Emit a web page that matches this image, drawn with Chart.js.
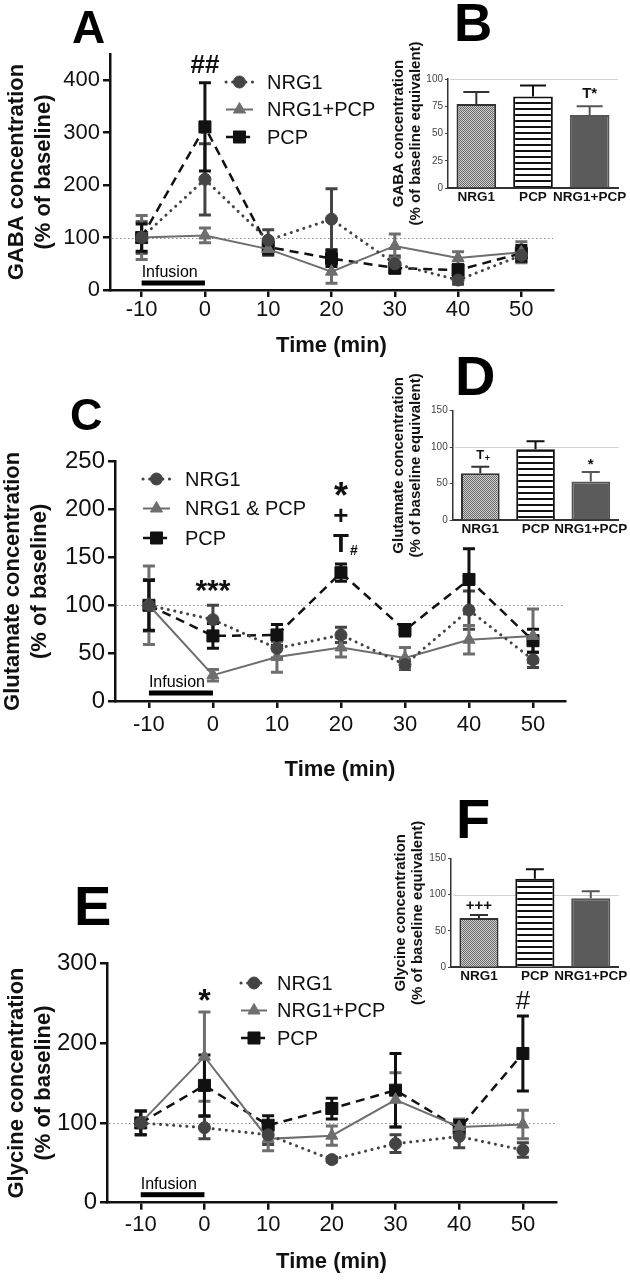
<!DOCTYPE html>
<html><head><meta charset="utf-8">
<script src="https://cdn.jsdelivr.net/npm/chart.js@4/dist/chart.umd.min.js"></script>
<style>
html,body{margin:0;padding:0;background:#fff;}
#wrap{position:relative;width:630px;height:1280px;overflow:hidden;font-family:'Liberation Sans',Arial,sans-serif;background:#fff;}
canvas{position:absolute;}
.letter{position:absolute;font-weight:bold;color:#000;line-height:1;font-family:'Liberation Sans',Arial,sans-serif;}
</style></head><body>
<div id="wrap">
<canvas id="cA" width="590" height="370" style="left:0;top:0"></canvas>
<canvas id="cC" width="590" height="390" style="left:0;top:400px"></canvas>
<canvas id="cE" width="590" height="380" style="left:0;top:900px"></canvas>
<canvas id="cB" width="240" height="240" style="left:390px;top:0"></canvas>
<canvas id="cD" width="240" height="250" style="left:390px;top:330px"></canvas>
<canvas id="cF" width="240" height="260" style="left:390px;top:760px"></canvas>
<div class="letter" style="left:72px;top:4px;font-size:46px">A</div>
<div class="letter" style="left:454px;top:-4px;font-size:53px">B</div>
<div class="letter" style="left:70px;top:392px;font-size:45px">C</div>
<div class="letter" style="left:455px;top:348px;font-size:56px">D</div>
<div class="letter" style="left:74px;top:878px;font-size:56px">E</div>
<div class="letter" style="left:456px;top:791px;font-size:56px">F</div>
</div>
<script>
// ---------------- DATA ----------------
const timePoints = [-10, 0, 10, 20, 30, 40, 50];
const xTickValues = [-10, 0, 10, 20, 30, 40, 50];
const infusionRange = [-10, 0];
const baselineValue = 100;

const seriesLabels = ['NRG1', 'NRG1+PCP', 'PCP'];
const seriesLabelsC = ['NRG1', 'NRG1 & PCP', 'PCP'];

// A: GABA (% of baseline)
const gabaTicks = [0, 100, 200, 300, 400];
const gabaNRG1 = [100, 211, 95, 135, 50, 19, 66];
const gabaNRG1Err = [30, 68, 20, 58, 15, 8, 12];
const gabaCombo = [100, 104, 78, 35, 84, 61, 72];
const gabaComboErr = [42, 14, 12, 22, 23, 12, 20];
const gabaPCP = [100, 311, 82, 60, 42, 38, 70];
const gabaPCPErr = [26, 84, 14, 15, 10, 10, 15];

// C: Glutamate (% of baseline)
const glutTicks = [0, 50, 100, 150, 200, 250];
const glutNRG1 = [100, 85, 55, 69, 38, 95, 43];
const glutNRG1Err = [27, 15, 10, 8, 5, 20, 8];
const glutCombo = [100, 27, 46, 56, 45, 64, 68];
const glutComboErr = [41, 6, 16, 10, 11, 15, 28];
const glutPCP = [100, 68, 69, 134, 74, 127, 63];
const glutPCPErr = [26, 13, 11, 9, 6, 32, 12];

// E: Glycine (% of baseline)
const glyTicks = [0, 100, 200, 300];
const glyNRG1 = [100, 94, 85, 54, 74, 83, 66];
const glyNRG1Err = [15, 14, 12, 3, 11, 14, 9];
const glyCombo = [100, 183, 80, 84, 129, 95, 98];
const glyComboErr = [15, 56, 15, 12, 34, 10, 18];
const glyPCP = [100, 147, 97, 118, 141, 93, 187];
const glyPCPErr = [15, 38, 12, 13, 46, 10, 47];

// Insets: % of baseline equivalent
const barCategories = ['NRG1', 'PCP', 'NRG1+PCP'];
const gabaBarTicks = [0, 25, 50, 75, 100];
const gabaBar = [77, 84, 67];
const gabaBarErr = [11, 10, 8];
const glutBarTicks = [0, 50, 100, 150];
const glutBar = [64, 97, 53];
const glutBarErr = [9, 11, 13];
const glyBarTicks = [0, 50, 100, 150];
const glyBar = [68, 122, 95];
const glyBarErr = [4, 13, 9.5];

// ---------------- STYLES ----------------
const FONT = "'Liberation Sans', Arial, Helvetica, sans-serif";
Chart.defaults.font.family = FONT;
Chart.defaults.color = '#111';

const styleNRG1 = {color: '#444', dash: [0.1, 6.5], width: 3, cap: 'round', point: 'circle', radius: 6};
const styleCombo = {color: '#6e6e6e', dash: [], width: 2, cap: 'butt', point: 'triangle', radius: 7};
const stylePCP = {color: '#111', dash: [9, 6], width: 2.5, cap: 'butt', point: 'rect', radius: 8.5};

function checkerPattern() {
  const c = document.createElement('canvas'); c.width = 2; c.height = 2;
  const g = c.getContext('2d');
  g.fillStyle = '#cfcfcf'; g.fillRect(0, 0, 2, 2);
  g.fillStyle = '#6a6a6a'; g.fillRect(0, 0, 1, 1); g.fillRect(1, 1, 1, 1);
  return g.createPattern(c, 'repeat');
}
function stripePattern() {
  const c = document.createElement('canvas'); c.width = 4; c.height = 6;
  const g = c.getContext('2d');
  g.fillStyle = '#fff'; g.fillRect(0, 0, 4, 6);
  g.fillStyle = '#111'; g.fillRect(0, 0, 4, 2);
  return g.createPattern(c, 'repeat');
}

// ---------------- PLUGINS ----------------
const refLinePlugin = {
  id: 'refLine',
  beforeDatasetsDraw(chart, args, o) {
    if (!o || o.value === undefined) return;
    const {ctx, chartArea: a, scales: {y}} = chart;
    const py = Math.round(y.getPixelForValue(o.value)) + 0.5;
    ctx.save();
    ctx.strokeStyle = o.color; ctx.lineWidth = o.width || 1;
    ctx.setLineDash(o.dash || []);
    ctx.beginPath(); ctx.moveTo(a.left + 2, py); ctx.lineTo(a.right, py); ctx.stroke();
    ctx.restore();
  }
};

const errorBarPlugin = {
  id: 'errBars',
  beforeDatasetsDraw(chart, args, o) {
    const {ctx, scales: {x, y}} = chart;
    chart.data.datasets.forEach((ds, i) => {
      if (!ds.errors) return;
      const meta = chart.getDatasetMeta(i);
      ds.data.forEach((pt, j) => {
        const val = typeof pt === 'number' ? pt : pt.y;
        const e = ds.errors[j];
        const px = typeof pt === 'number' ? meta.data[j].x : x.getPixelForValue(pt.x);
        const yTop = y.getPixelForValue(val + e);
        const yBot = ds.upOnly ? y.getPixelForValue(val) : y.getPixelForValue(val - e);
        const col = Array.isArray(ds.errColor) ? ds.errColor[j] : (ds.errColor || ds.borderColor);
        const cw = (o && o.cap) || 6;
        ctx.save();
        ctx.strokeStyle = col; ctx.lineWidth = (o && o.width) || 3; ctx.setLineDash([]);
        ctx.beginPath();
        ctx.moveTo(px, yTop); ctx.lineTo(px, yBot);
        ctx.moveTo(px - cw, yTop); ctx.lineTo(px + cw, yTop);
        if (!ds.upOnly) { ctx.moveTo(px - cw, yBot); ctx.lineTo(px + cw, yBot); }
        ctx.stroke();
        ctx.restore();
      });
    });
  }
};

const infusionPlugin = {
  id: 'infusion',
  afterDatasetsDraw(chart, args, o) {
    if (!o || !o.range) return;
    const {ctx, chartArea: a, scales: {x}} = chart;
    const x0 = x.getPixelForValue(o.range[0]);
    const x1 = x.getPixelForValue(o.range[1]);
    const yb = a.bottom - o.offset;
    ctx.save();
    ctx.fillStyle = '#000';
    ctx.fillRect(x0, yb - o.thickness / 2, x1 - x0, o.thickness);
    ctx.font = o.font; ctx.textAlign = 'left'; ctx.textBaseline = 'alphabetic';
    ctx.fillText(o.label, x0, yb - o.textGap);
    ctx.restore();
  }
};

const legendPlugin = {
  id: 'lineLegend',
  afterDraw(chart, args, o) {
    if (!o || !o.labels) return;
    const {ctx} = chart;
    chart.data.datasets.forEach((ds, i) => {
      const yy = o.y + i * o.gap;
      ctx.save();
      ctx.strokeStyle = ds.borderColor; ctx.lineWidth = ds.borderWidth;
      ctx.lineCap = ds.borderCapStyle || 'butt';
      ctx.setLineDash(o.dashes[i]);
      ctx.beginPath(); ctx.moveTo(o.x, yy); ctx.lineTo(o.x + o.len, yy); ctx.stroke();
      ctx.setLineDash([]);
      ctx.fillStyle = ds.pointBackgroundColor; ctx.strokeStyle = ds.pointBorderColor; ctx.lineWidth = 1;
      Chart.helpers.drawPoint(ctx, {pointStyle: ds.pointStyle, radius: ds.pointRadius, borderWidth: 1, rotation: 0}, o.x + o.len / 2, yy);
      ctx.fillStyle = '#111'; ctx.font = o.font; ctx.textAlign = 'left'; ctx.textBaseline = 'middle';
      ctx.fillText(o.labels[i], o.textX, yy + 1);
      ctx.restore();
    });
  }
};

const annotPlugin = {
  id: 'annots',
  afterDatasetsDraw(chart, args, o) {
    if (!o || !o.items) return;
    const {ctx, scales: {x, y}} = chart;
    o.items.forEach(a => {
      const px = x.getPixelForValue(a.x) + (a.dx || 0);
      const py = y.getPixelForValue(a.y);
      ctx.save();
      ctx.font = a.font; ctx.fillStyle = '#111';
      ctx.textAlign = 'center'; ctx.textBaseline = 'middle';
      ctx.fillText(a.text, px, py);
      ctx.restore();
    });
  }
};

// ---------------- BUILDERS ----------------
function buildSeries(labels, valuesList, errorsList, styles) {
  return labels.map((lab, k) => {
    const s = styles[k];
    return {
      label: lab,
      data: timePoints.map((t, i) => ({x: t, y: valuesList[k][i]})),
      errors: errorsList[k],
      borderColor: s.color, backgroundColor: s.color,
      borderWidth: s.width, borderDash: s.dash, borderCapStyle: s.cap,
      pointStyle: s.point, pointRadius: s.radius,
      pointBackgroundColor: s.color, pointBorderColor: s.color, pointBorderWidth: 1,
      tension: 0, fill: false
    };
  });
}

function makeLine(id, spec) {
  return new Chart(document.getElementById(id), {
    type: 'line',
    data: {datasets: spec.datasets},
    options: {
      responsive: false, animation: false, events: [],
      layout: {padding: spec.padding},
      plugins: {
        legend: {display: false}, tooltip: {enabled: false},
        refLine: {value: baselineValue, color: '#8a8a8a', width: 1, dash: [1.5, 2.5]},
        errBars: {cap: 6, width: 3},
        infusion: spec.infusion,
        lineLegend: spec.legend,
        annots: {items: spec.annots}
      },
      scales: {
        x: {
          type: 'linear', min: spec.xMin, max: spec.xMax,
          afterBuildTicks: s => { s.ticks = xTickValues.map(v => ({value: v})); },
          afterFit: s => { s.height = spec.xHeight; },
          ticks: {font: {size: 22}, color: '#111', padding: spec.xTickPad, autoSkip: false, maxRotation: 0},
          grid: {drawOnChartArea: false, tickLength: 7, color: '#111', lineWidth: 2.5},
          border: {color: '#111', width: 2.5},
          title: {display: true, text: 'Time (min)', font: {size: 22, weight: 'bold'}, color: '#111', padding: {top: 0, bottom: spec.xTitlePad}}
        },
        y: {
          min: 0, max: spec.yMax,
          afterBuildTicks: s => { s.ticks = spec.yTicks.map(v => ({value: v})); },
          afterFit: s => { s.width = spec.yWidth; },
          ticks: {font: {size: spec.yTickSize}, color: '#111', padding: 3},
          grid: {drawOnChartArea: false, tickLength: 7, color: '#111', lineWidth: 2.5},
          border: {color: '#111', width: 2.5},
          title: {display: true, text: spec.yTitle, font: {size: 22, weight: 'bold', lineHeight: 1.22}, color: '#111', padding: {top: spec.yTitlePad, bottom: 0}}
        }
      }
    },
    plugins: [refLinePlugin, errorBarPlugin, infusionPlugin, legendPlugin, annotPlugin]
  });
}

const checker = checkerPattern();
const stripes = stripePattern();

function makeBar(id, spec) {
  return new Chart(document.getElementById(id), {
    type: 'bar',
    data: {
      labels: barCategories,
      datasets: [{
        data: spec.values, errors: spec.errors, upOnly: true,
        backgroundColor: [checker, stripes, '#5b5b5b'],
        borderColor: ['#333', '#111', '#555'],
        errColor: ['#333', '#111', '#555'],
        borderWidth: 2,
        barPercentage: 0.7, categoryPercentage: 1
      }]
    },
    options: {
      responsive: false, animation: false, events: [],
      layout: {padding: spec.padding},
      plugins: {
        legend: {display: false}, tooltip: {enabled: false},
        refLine: {value: baselineValue, color: '#d2d2d2', width: 1},
        errBars: {cap: spec.cap, width: 2},
        annots: {items: spec.annots}
      },
      scales: {
        x: {
          afterFit: s => { s.height = spec.xHeight; },
          ticks: {font: {size: 13.5, weight: 'bold'}, color: '#111', padding: 1, autoSkip: false, maxRotation: 0, minRotation: 0},
          grid: {display: false, drawTicks: false},
          border: {color: '#333', width: 2}
        },
        y: {
          min: 0, max: spec.yMax,
          afterBuildTicks: s => { s.ticks = spec.yTicks.map(v => ({value: v})); },
          afterFit: s => { s.width = spec.yWidth; },
          ticks: {font: {size: 10}, color: '#444', padding: 2},
          grid: {drawOnChartArea: false, tickLength: 3, color: '#444', lineWidth: 1},
          border: {color: '#333', width: 1.5},
          title: {display: true, text: spec.yTitle, font: {size: 15, weight: 'bold', lineHeight: 1.15}, color: '#111', padding: {top: spec.yTitlePad, bottom: 0}}
        }
      }
    },
    plugins: [refLinePlugin, errorBarPlugin, annotPlugin]
  });
}

const styles3 = [styleNRG1, styleCombo, stylePCP];
const legendDashes = [[0.1, 6.5], [], [7, 5, 0.1, 5]];

// Panel A
makeLine('cA', {
  datasets: buildSeries(seriesLabels, [gabaNRG1, gabaCombo, gabaPCP], [gabaNRG1Err, gabaComboErr, gabaPCPErr], styles3),
  padding: {top: 54, right: 37, bottom: 0, left: 0},
  xMin: -15, xMax: 55, xHeight: 80, xTickPad: 0, xTitlePad: 11,
  yMax: 450, yTicks: gabaTicks, yWidth: 110, yTickSize: 22, yTitlePad: 4,
  yTitle: ['GABA concentration', '(% of baseline)'],
  infusion: {range: infusionRange, label: 'Infusion', offset: 7, thickness: 5, textGap: 6, font: '16px ' + FONT},
  legend: {labels: seriesLabels, x: 226, y: 82, gap: 27.5, len: 27, textX: 267, font: '20px ' + FONT, dashes: legendDashes},
  annots: [{x: 0, y: 427, text: '##', font: 'bold 26px ' + FONT}]
});

// Panel C
makeLine('cC', {
  datasets: buildSeries(seriesLabelsC, [glutNRG1, glutCombo, glutPCP], [glutNRG1Err, glutComboErr, glutPCPErr], styles3),
  padding: {top: 61.7, right: 25, bottom: 0, left: 0},
  xMin: -15.3, xMax: 55, xHeight: 89, xTickPad: 4, xTitlePad: 7,
  yMax: 250, yTicks: glutTicks, yWidth: 115, yTickSize: 24, yTitlePad: 0,
  yTitle: ['Glutamate concentration', '(% of baseline)'],
  infusion: {range: infusionRange, label: 'Infusion', offset: 8, thickness: 5, textGap: 6, font: '16px ' + FONT},
  legend: {labels: seriesLabelsC, x: 143, y: 79, gap: 29.5, len: 27, textX: 185, font: '20px ' + FONT, dashes: legendDashes},
  annots: [
    {x: 0, y: 114, text: '***', font: 'bold 30px ' + FONT},
    {x: 20, y: 212, text: '*', font: 'bold 36px ' + FONT},
    {x: 20, y: 192, text: '+', font: 'bold 26px ' + FONT},
    {x: 20, y: 163, text: 'T', font: 'bold 26px ' + FONT},
    {x: 20, y: 157, dx: 13, text: '#', font: 'bold 14px ' + FONT}
  ]
});

// Panel E
makeLine('cE', {
  datasets: buildSeries(seriesLabels, [glyNRG1, glyCombo, glyPCP], [glyNRG1Err, glyComboErr, glyPCPErr], styles3),
  padding: {top: 63.3, right: 34, bottom: 0, left: 0},
  xMin: -15.3, xMax: 55.2, xHeight: 77.3, xTickPad: 2, xTitlePad: 4.4,
  yMax: 300, yTicks: glyTicks, yWidth: 107, yTickSize: 24, yTitlePad: 4,
  yTitle: ['Glycine concentration', '(% of baseline)'],
  infusion: {range: infusionRange, label: 'Infusion', offset: 8, thickness: 5, textGap: 6, font: '16px ' + FONT},
  legend: {labels: seriesLabels, x: 241, y: 83, gap: 27.5, len: 26, textX: 277, font: '20px ' + FONT, dashes: legendDashes},
  annots: [
    {x: 0, y: 251, text: '*', font: 'bold 32px ' + FONT},
    {x: 50, y: 252, text: '#', font: '26px ' + FONT}
  ]
});

// Panel B
makeBar('cB', {
  values: gabaBar, errors: gabaBarErr, cap: 13,
  padding: {top: 79, right: 12, bottom: 0, left: 0},
  xHeight: 52, yMax: 100, yTicks: gabaBarTicks, yWidth: 58, yTitlePad: 0,
  yTitle: ['GABA concentration', '(% of baseline equivalent)'],
  annots: [{x: 2, y: 86, text: 'T*', font: 'bold 15px ' + FONT}]
});

// Panel D
makeBar('cD', {
  values: glutBar, errors: glutBarErr, cap: 9,
  padding: {top: 80.7, right: 10, bottom: 0, left: 0},
  xHeight: 60, yMax: 150, yTicks: glutBarTicks, yWidth: 62.7, yTitlePad: 0,
  yTitle: ['Glutamate concentration', '(% of baseline equivalent)'],
  annots: [
    {x: 0, y: 89, text: 'T', font: 'bold 13px ' + FONT},
    {x: 0, y: 84, dx: 7, text: '+', font: 'bold 9px ' + FONT},
    {x: 2, y: 75, text: '*', font: 'bold 15px ' + FONT}
  ]
});

// Panel F
makeBar('cF', {
  values: glyBar, errors: glyBarErr, cap: 9,
  padding: {top: 98.3, right: 10, bottom: 0, left: 0},
  xHeight: 52.7, yMax: 150, yTicks: glyBarTicks, yWidth: 61, yTitlePad: 2,
  yTitle: ['Glycine concentration', '(% of baseline equivalent)'],
  annots: [{x: 0, y: 84, text: '+++', font: 'bold 15px ' + FONT}]
});
</script>
</body></html>
